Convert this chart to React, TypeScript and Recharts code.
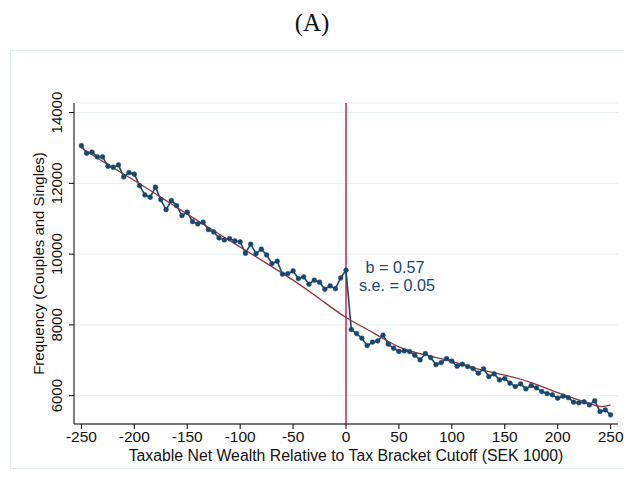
import React from 'react';
import { ComposedChart, Line, XAxis, YAxis, CartesianGrid, ReferenceLine } from 'recharts';

const bins = [
  -250, -245, -240, -235, -230, -225, -220, -215, -210, -205,
  -200, -195, -190, -185, -180, -175, -170, -165, -160, -155,
  -150, -145, -140, -135, -130, -125, -120, -115, -110, -105,
  -100, -95, -90, -85, -80, -75, -70, -65, -60, -55,
  -50, -45, -40, -35, -30, -25, -20, -15, -10, -5,
  0, 5, 10, 15, 20, 25, 30, 35, 40, 45,
  50, 55, 60, 65, 70, 75, 80, 85, 90, 95,
  100, 105, 110, 115, 120, 125, 130, 135, 140, 145,
  150, 155, 160, 165, 170, 175, 180, 185, 190, 195,
  200, 205, 210, 215, 220, 225, 230, 235, 240, 245,
  250,
];

const frequencies = [
  13065, 12850, 12880, 12746, 12746, 12483, 12455, 12520, 12181, 12302,
  12257, 11935, 11672, 11607, 11890, 11540, 11257, 11514, 11370, 11088,
  11183, 10918, 10853, 10901, 10692, 10627, 10458, 10401, 10438, 10373,
  10345, 10025, 10280, 10014, 10138, 9977, 9732, 9799, 9432, 9449,
  9525, 9308, 9356, 9150, 9263, 9206, 9008, 9102, 9025, 9328,
  9545, 7867, 7754, 7624, 7415, 7511, 7548, 7709, 7455, 7342,
  7250, 7266, 7247, 7144, 7011, 7190, 7077, 6879, 6935, 7048,
  6975, 6833, 6889, 6822, 6766, 6636, 6757, 6540, 6616, 6446,
  6483, 6353, 6258, 6335, 6192, 6287, 6220, 6116, 6060, 6023,
  5929, 5986, 5946, 5816, 5797, 5825, 5740, 5853, 5551, 5599,
  5458,
];

const fitBins = [-250, -225, -200, -175, -150, -125, -100, -75, -50, -25, 0, 25, 50, 75, 100, 125, 150, 175, 200, 225, 240, 250];
const fitValues = [13000, 12530, 12080, 11610, 11130, 10660, 10200, 9740, 9265, 8740, 8210, 7790, 7380, 7150, 6970, 6750, 6580, 6370, 6085, 5830, 5695, 5740];

const xTicks = [-250, -200, -150, -100, -50, 0, 50, 100, 150, 200, 250];
const yTicks = [6000, 8000, 10000, 12000, 14000];

const title = '(A)';
const xTitle = 'Taxable Net Wealth Relative to Tax Bracket Cutoff (SEK 1000)';
const yTitle = 'Frequency (Couples and Singles)';
const noteB = 'b = 0.57';
const noteSE = 's.e. = 0.05';

const NAVY = '#1a476f';
const MAROON = '#90353b';
const XLINE = '#d81b45';
const FONT = '"Liberation Sans", Arial, Helvetica, sans-serif';

const XTick = (props: any) => (
  <text x={props.x} y={442} textAnchor="middle" fontSize={15.5} fontFamily={FONT} fill="#111">
    {props.payload.value}
  </text>
);

const YTick = (props: any) => (
  <text
    x={62}
    y={props.y}
    transform={`rotate(-90 62 ${props.y})`}
    textAnchor="middle"
    fontSize={15}
    fontFamily={FONT}
    fill="#111"
  >
    {props.payload.value}
  </text>
);

export default function App() {
  const data = bins.map((b, i) => {
    const fi = fitBins.indexOf(b);
    return { x: b, freq: frequencies[i], fit: fi >= 0 ? fitValues[fi] : null };
  });

  return (
    <div style={{ position: 'absolute', left: 0, top: 0, width: 624, height: 477, background: '#fff', overflow: 'hidden' }}>
      <svg style={{ position: 'absolute', left: 0, top: 0 }} width={624} height={477}>
        <rect x={10.5} y={50.5} width={640} height={418} fill="none" stroke="#e4edf0" strokeWidth={1} />
      </svg>
      <div style={{ position: 'absolute', left: 0, top: 0 }}>
        <ComposedChart width={624} height={477} data={data} margin={{ top: 103, right: 6, bottom: 23, left: 30 }}>
          <CartesianGrid vertical={false} stroke="#e6eff1" strokeWidth={1} />
          <XAxis
            type="number"
            dataKey="x"
            domain={[-257, 257]}
            ticks={xTicks}
            interval={0}
            allowDataOverflow
            height={30}
            tick={XTick}
            tickSize={5}
            tickLine={{ stroke: '#000' }}
            axisLine={{ stroke: '#000' }}
          />
          <YAxis
            type="number"
            domain={[5200, 14270]}
            ticks={yTicks}
            interval={0}
            allowDataOverflow
            width={44}
            tick={YTick}
            tickSize={5}
            tickLine={{ stroke: '#000' }}
            axisLine={{ stroke: '#000' }}
          />
          <ReferenceLine x={0} stroke={XLINE} strokeWidth={1.5} />
          <Line
            dataKey="freq"
            type="linear"
            stroke={NAVY}
            strokeWidth={1.6}
            dot={{ r: 2.4, fill: NAVY, stroke: NAVY, strokeWidth: 0.5 }}
            isAnimationActive={false}
          />
          <Line
            dataKey="fit"
            type="natural"
            connectNulls
            stroke={MAROON}
            strokeWidth={1.3}
            dot={false}
            isAnimationActive={false}
          />
        </ComposedChart>
      </div>
      <svg style={{ position: 'absolute', left: 0, top: 0, pointerEvents: 'none' }} width={624} height={477}>
        <text x={312} y={31} textAnchor="middle" fontSize={25} fontFamily='"Liberation Serif", "Times New Roman", serif' fill="#111">
          {title}
        </text>
        <text x={346} y={461} textAnchor="middle" fontSize={15.8} fontFamily={FONT} fill="#111">
          {xTitle}
        </text>
        <text x={44} y={263.5} transform="rotate(-90 44 263.5)" textAnchor="middle" fontSize={15} fontFamily={FONT} fill="#111">
          {yTitle}
        </text>
        <text x={395} y={273} textAnchor="middle" fontSize={16.2} fontFamily={FONT} fill={NAVY}>
          {noteB}
        </text>
        <text x={397} y={291} textAnchor="middle" fontSize={16.2} fontFamily={FONT} fill={NAVY}>
          {noteSE}
        </text>
      </svg>
    </div>
  );
}
